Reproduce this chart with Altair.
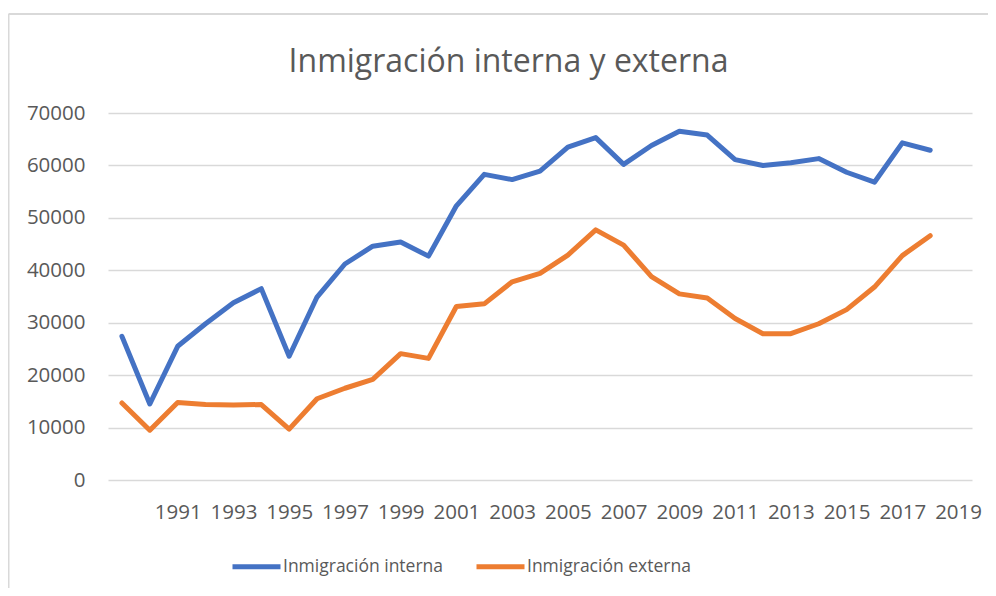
import altair as alt
import pandas as pd

years = list(range(1989, 2019))
interna = [27400, 14500, 25500, 29800, 33800, 36500, 23600, 34900, 41200, 44600,
           45400, 42700, 52300, 58300, 57300, 58900, 63500, 65300, 60200, 63800,
           66500, 65800, 61100, 60000, 60500, 61300, 58700, 56800, 64300, 62900]
externa = [14700, 9500, 14800, 14400, 14300, 14400, 9700, 15500, 17500, 19200,
           24100, 23200, 33100, 33600, 37800, 39400, 42900, 47700, 44800, 38800,
           35500, 34700, 30800, 27900, 27900, 29800, 32500, 36800, 42800, 46600]
series = ["Inmigración interna", "Inmigración externa"]
colors = ["#4472C4", "#ED7D31"]
x_ticks = list(range(1991, 2020, 2))
y_ticks = list(range(0, 70001, 10000))
title_text = ["Inmigración interna y externa"]

df = pd.DataFrame({"Año": years, series[0]: interna, series[1]: externa})
long = df.melt(id_vars="Año", var_name="Serie", value_name="Valor")

FONT = "Open Sans"
TXT = "#595959"
W, H = 864, 367

lines = alt.Chart(long).mark_line(strokeWidth=5, strokeCap="round", strokeJoin="round").encode(
    x=alt.X("Año:Q", scale=alt.Scale(domain=[1988.5, 2019.5], nice=False, zero=False),
            axis=alt.Axis(values=x_ticks, format="d", title=None, grid=False, domain=False,
                          ticks=False, labelFontSize=20.5, labelFont=FONT, labelColor=TXT,
                          labelBaseline="alphabetic", labelPadding=38, labelFlush=False,
                          labelOverlap=False)),
    y=alt.Y("Valor:Q", scale=alt.Scale(domain=[0, 70000], nice=False),
            axis=alt.Axis(values=y_ticks, title=None, domain=False, ticks=False,
                          gridColor="#D9D9D9", gridWidth=1.3, labelFontSize=20.5,
                          labelFont=FONT, labelColor=TXT, labelPadding=23, format="d")),
    color=alt.Color("Serie:N", scale=alt.Scale(domain=series, range=colors),
                    legend=alt.Legend(title=None, orient="none", direction="horizontal",
                                      legendX=122, legendY=427, symbolType="stroke",
                                      symbolSize=2304, symbolStrokeWidth=5,
                                      labelFontSize=17.5, labelFont=FONT, labelColor=TXT,
                                      labelOffset=0, columnPadding=22, labelLimit=0)),
)

title = alt.Chart(pd.DataFrame({"t": title_text})).mark_text(
    font=FONT, fontSize=32, color=TXT, align="center", baseline="alphabetic"
).encode(text="t:N", x=alt.value(400.5), y=alt.value(-41))

border = pd.DataFrame({"k": [0]})
left_border = alt.Chart(border).mark_rule(color="#D9D9D9", strokeWidth=2).encode(
    x=alt.value(-99.5), y=alt.value(-99), y2=alt.value(475))
top_border = alt.Chart(border).mark_rule(color="#D9D9D9", strokeWidth=2).encode(
    x=alt.value(-99.5), x2=alt.value(880), y=alt.value(-99))

chart = alt.layer(lines, title, left_border, top_border).properties(
    width=W, height=H,
    autosize=alt.AutoSizeParams(type="none"),
    padding={"left": 100, "top": 105, "right": 16, "bottom": 108},
).configure_view(stroke=None)

chart.save("out.html", embed_options={"renderer": "svg", "actions": False})
